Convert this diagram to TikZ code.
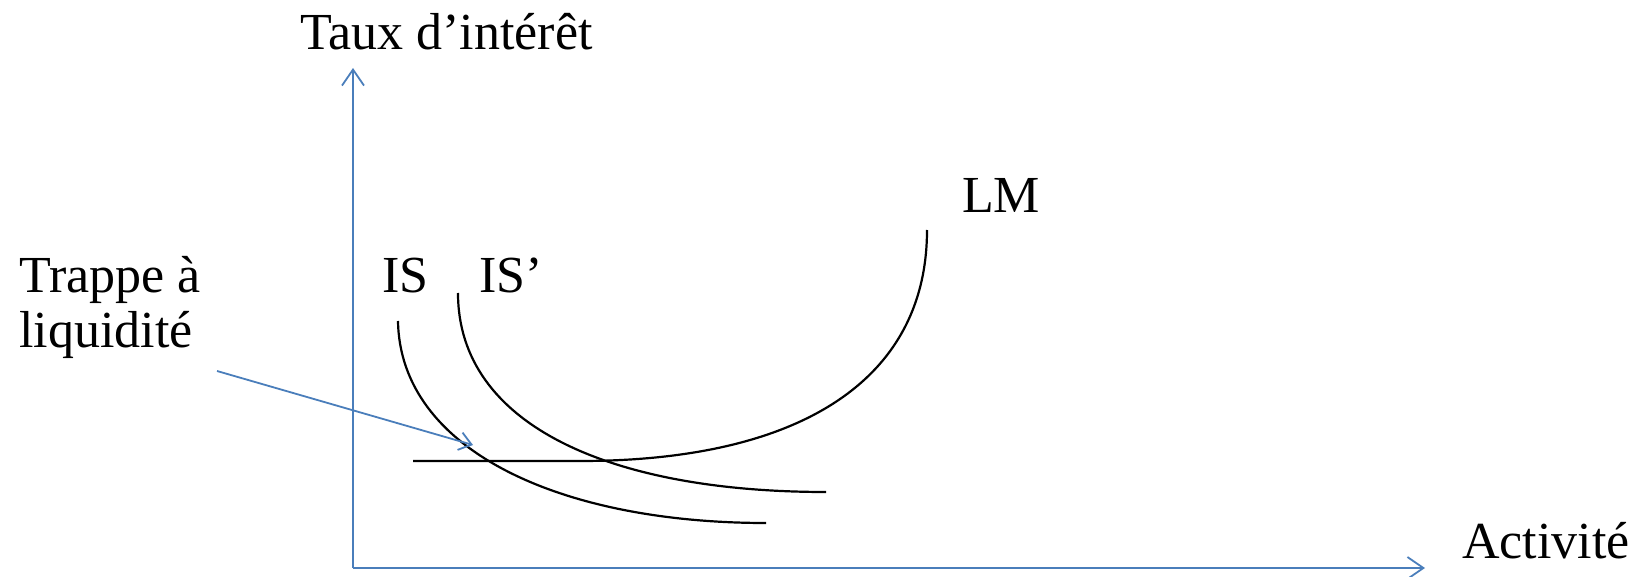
\documentclass[tikz,border=0pt]{standalone}
\usepackage{fontspec}
\setmainfont{Liberation Serif}
\usetikzlibrary{arrows.meta}
\definecolor{axes}{HTML}{4A7EBB}
\tikzstyle{etiquette} = [font=\fontsize{52}{55}\selectfont, inner sep=0pt, anchor=base west]
\tikzstyle{courbe} = [line width=2.2pt, black]
\tikzstyle{axe} = [axes, line width=1.8pt, -{Straight Barb[length=16pt, width=22pt]}]
\tikzstyle{renvoi} = [axes, line width=1.8pt, -{Straight Barb[length=12pt, width=18pt]}]

\begin{document}
\begin{tikzpicture}[x=1pt, y=-1pt]
\useasboundingbox (0,0) rectangle (1639,577);

\coordinate (O) at (353,568);
\coordinate (ytop) at (353,68);
\coordinate (xend) at (1425,568);

\draw[axe] (O) -- (ytop);
\draw[axe] (O) -- (xend);

\node (taux) [etiquette] at (300,50) {Taux d’intérêt};
\node (activite) [etiquette] at (1462,558) {Activité};
\node (lm) [etiquette] at (962,213) {LM};
\node (is) [etiquette] at (382,293) {IS};
\node (isp) [etiquette] at (479,293) {IS’};
\node (trappe) [etiquette, align=left] at (19,348) {Trappe à\\liquidité};

% LM : trappe horizontale puis remontee
\coordinate (lm0) at (413,461);
\coordinate (lm1) at (580,461);
\coordinate (lm2) at (927,230);
\draw[courbe] (lm0) -- (lm1) .. controls (800,461) and (927,380) .. (lm2);

% IS et IS'
\coordinate (is0) at (398,321);
\coordinate (is1) at (766,523);
\draw[courbe] (is0) .. controls (400,450) and (560,523) .. (is1);
\coordinate (isp0) at (458,293);
\coordinate (isp1) at (826,492);
\draw[courbe] (isp0) .. controls (458,425) and (610,492) .. (isp1);

\coordinate (tr0) at (217,371);
\coordinate (tr1) at (473,445);
\draw[renvoi] (tr0) -- (tr1);

\end{tikzpicture}
\end{document}
